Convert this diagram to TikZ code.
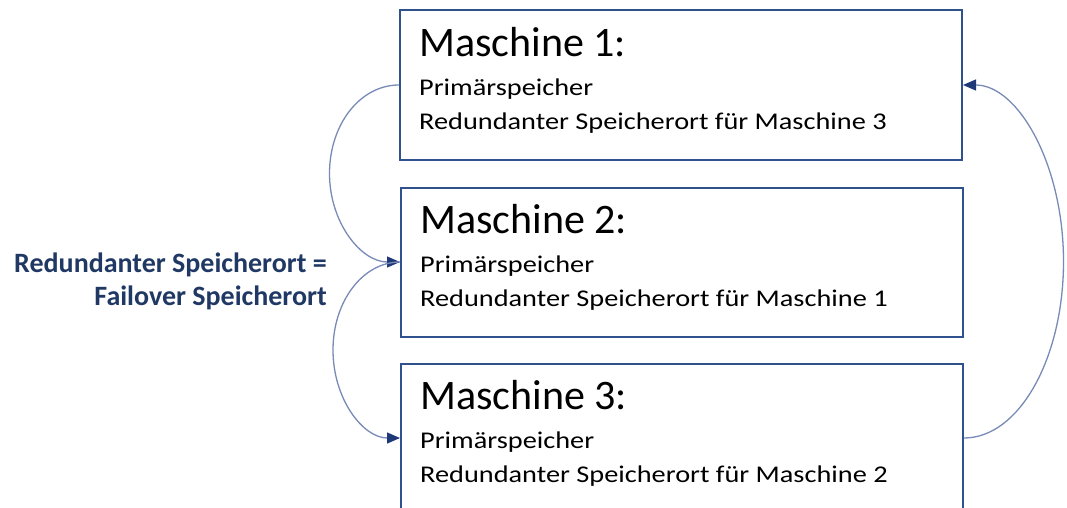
\documentclass[tikz,border=0pt]{standalone}
\usepackage{fontspec}
\setmainfont{Carlito}
\newfontfamily\titlefont{Carlito}
\newfontfamily\bodyfont{Carlito}[FakeStretch=1.18]
\usetikzlibrary{arrows.meta,calc}
\definecolor{boxblue}{RGB}{47,82,143}
\definecolor{linkblue}{RGB}{120,138,182}
\definecolor{tipblue}{RGB}{31,56,120}
\definecolor{labelblue}{RGB}{32,56,100}

\begin{document}
\begin{tikzpicture}[x=1pt,y=-1pt,
  machine/.style={draw=boxblue,line width=2pt,minimum width=562pt,minimum height=149pt,inner sep=0pt},
  title/.style={anchor=base west,inner sep=0pt,font=\titlefont\fontsize{42}{50}\selectfont},
  body/.style={anchor=base west,inner sep=0pt,font=\bodyfont\fontsize{24}{30}\selectfont},
  note/.style={anchor=base east,inner sep=0pt,text=labelblue,font=\bfseries\fontsize{28}{33}\selectfont},
  link/.style={draw=linkblue,line width=1.3pt,-{Triangle[length=13pt,width=11pt,color=tipblue,fill=tipblue]}}
]
\useasboundingbox (0,0) rectangle (1067,508);
\clip (0,0) rectangle (1067,508);

% the three machines
\node[machine] (m1) at (681,85) {};
\node[machine] (m2) at (682,262) {};
\node[machine] (m3) at (682,438) {};

% machine texts
\node[title] (t1) at ($(m1.north west)+(20,47)$) {Maschine 1:};
\node[body]  (p1) at ($(m1.north west)+(20,86)$) {Primärspeicher};
\node[body]  (r1) at ($(m1.north west)+(20,120)$) {Redundanter Speicherort für Maschine 3};

\node[title] (t2) at ($(m2.north west)+(20,47)$) {Maschine 2:};
\node[body]  (p2) at ($(m2.north west)+(20,86)$) {Primärspeicher};
\node[body]  (r2) at ($(m2.north west)+(20,120)$) {Redundanter Speicherort für Maschine 1};

\node[title] (t3) at ($(m3.north west)+(20,47)$) {Maschine 3:};
\node[body]  (p3) at ($(m3.north west)+(20,86)$) {Primärspeicher};
\node[body]  (r3) at ($(m3.north west)+(20,120)$) {Redundanter Speicherort für Maschine 2};

% side note
\node[note] (n1) at (327,272) {Redundanter Speicherort =};
\node[note] (n2) at (327,305) {Failover Speicherort};

% failover links: half ellipses built from two quarter arcs
\draw[link] (m1.west) .. controls +(-39,0) and +(0,-49)
  .. ($(m1.west)!.5!(m2.west)+(-70,0)$) .. controls +(0,49) and +(-39,0) .. (m2.west);
\draw[link] (m2.west) .. controls +(-37,0) and +(0,-49)
  .. ($(m2.west)!.5!(m3.west)+(-67,0)$) .. controls +(0,49) and +(-37,0) .. (m3.west);
\draw[link] (m3.east) .. controls +(55,0) and +(0,97)
  .. ($(m3.east)!.5!(m1.east)+(100,0)$) .. controls +(0,-97) and +(55,0) .. (m1.east);
\end{tikzpicture}
\end{document}
